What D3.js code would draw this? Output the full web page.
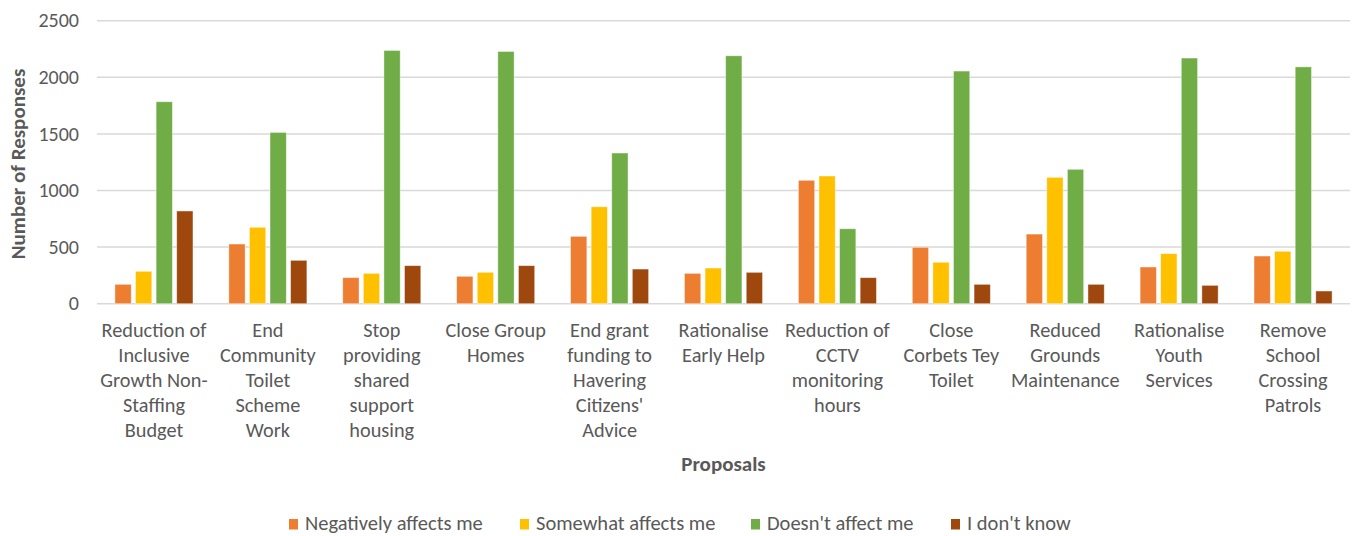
<!DOCTYPE html>
<html><head><meta charset="utf-8">
<script src="https://cdn.jsdelivr.net/npm/d3@7"></script>
<style>body{margin:0;background:#fff}svg{display:block}text{font-family:Carlito,Lato,"Open Sans",sans-serif;fill:#595959}</style>
</head><body>
<svg id="c" width="1357" height="536"></svg>
<script>
const categories = [
  ["Reduction of","Inclusive","Growth Non-","Staffing","Budget"],
  ["End","Community","Toilet","Scheme","Work"],
  ["Stop","providing","shared","support","housing"],
  ["Close Group","Homes"],
  ["End grant","funding to","Havering","Citizens'","Advice"],
  ["Rationalise","Early Help"],
  ["Reduction of","CCTV","monitoring","hours"],
  ["Close","Corbets Tey","Toilet"],
  ["Reduced","Grounds","Maintenance"],
  ["Rationalise","Youth","Services"],
  ["Remove","School","Crossing","Patrols"]
];
const seriesNames = ["Negatively affects me","Somewhat affects me","Doesn't affect me","I don't know"];
const negatively = [171, 527, 230, 242, 595, 268, 1090, 498, 615, 324, 421];
const somewhat   = [286, 675, 268, 277, 856, 315, 1128, 366, 1116, 442, 463];
const doesnt     = [1784, 1513, 2237, 2228, 1331, 2190, 662, 2055, 1187, 2170, 2092];
const dontKnow   = [819, 383, 336, 336, 306, 277, 230, 171, 171, 162, 112];
const yTicks = [0, 500, 1000, 1500, 2000, 2500];
const colors = ["#ED7D31","#FFC000","#70AD47","#9E480E"];
const seriesValues = [negatively, somewhat, doesnt, dontKnow];

const svg = d3.select("#c");
const pLeft = 97, pRight = 1350, pTop = 20.7, pBottom = 303.7;
const x0 = d3.scaleBand().domain(d3.range(categories.length)).range([pLeft, pRight]).paddingInner(0.315).paddingOuter(0.1575);
const x1 = d3.scaleBand().domain(d3.range(seriesNames.length)).range([0, x0.bandwidth()]).paddingInner(0.21).paddingOuter(0);
const y = d3.scaleLinear().domain([0, 2500]).range([pBottom, pTop]);

// gridlines
svg.append("g").selectAll("line").data(yTicks).join("line")
  .attr("x1", pLeft).attr("x2", pRight)
  .attr("y1", d => y(d)).attr("y2", d => y(d))
  .attr("stroke", "#D9D9D9").attr("stroke-width", 1.5);

// y tick labels
svg.append("g").selectAll("text").data(yTicks).join("text")
  .attr("x", 79).attr("y", d => y(d)).attr("dy", "0.33em")
  .attr("text-anchor", "end").attr("font-size", 20).text(d => d);

// bars
const g = svg.append("g");
categories.forEach((c, i) => {
  g.append("g").attr("transform", `translate(${x0(i)},0)`)
    .selectAll("rect").data(seriesValues.map((s, k) => ({k, v: s[i]}))).join("rect")
    .attr("x", d => x1(d.k)).attr("width", x1.bandwidth())
    .attr("y", d => y(d.v)).attr("height", d => y(0) - y(d.v))
    .attr("fill", d => colors[d.k]).attr("stroke", "#fff").attr("stroke-opacity", 0.5).attr("stroke-width", 0.8);
});

// x labels
const xl = svg.append("g");
categories.forEach((lines, i) => {
  const t = xl.append("text").attr("text-anchor", "middle").attr("font-size", 20.3)
    .attr("x", x0(i) + x0.bandwidth() / 2).attr("y", 337);
  lines.forEach((ln, j) => t.append("tspan").attr("x", x0(i) + x0.bandwidth() / 2).attr("dy", j ? 25 : 0).text(ln));
});

// axis titles
svg.append("text").attr("x", (pLeft + pRight) / 2).attr("y", 471).attr("text-anchor", "middle")
  .attr("font-size", 21).attr("font-weight", "bold").text("Proposals");
svg.append("text").attr("transform", "translate(25,164) rotate(-90)").attr("text-anchor", "middle")
  .attr("font-size", 21).attr("font-weight", "bold").text("Number of Responses");

// legend
const legX = [289, 520, 751, 951];
const leg = svg.append("g");
seriesNames.forEach((n, k) => {
  leg.append("rect").attr("x", legX[k]).attr("y", 519).attr("width", 9).attr("height", 10.5).attr("fill", colors[k]);
  leg.append("text").attr("x", legX[k] + 16).attr("y", 529.5).attr("font-size", 20.5).text(n);
});
</script>
</body></html>
